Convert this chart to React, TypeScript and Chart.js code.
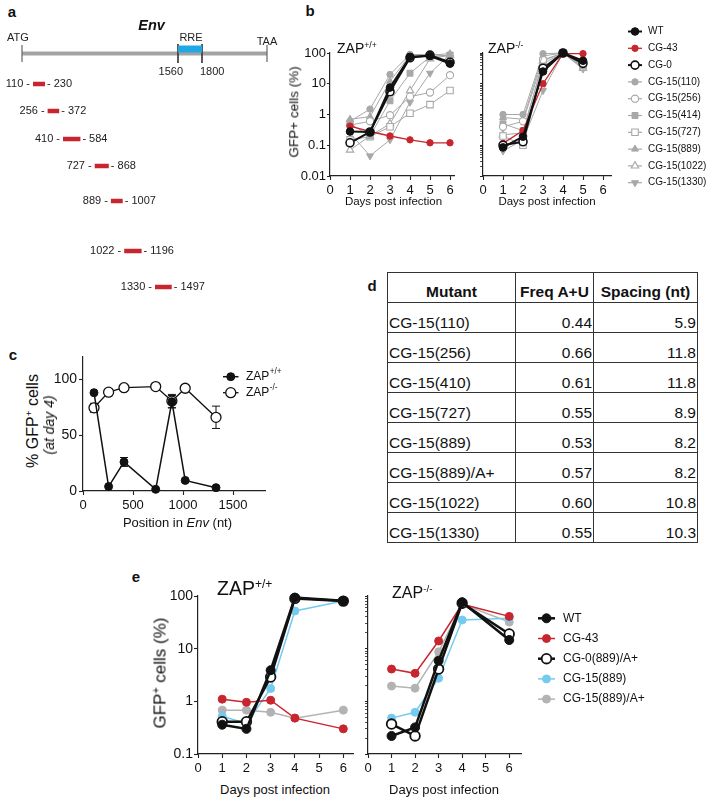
import React, { useEffect, useRef } from "react";
import { Chart, registerables } from "chart.js";
import { drawPoint } from "chart.js/helpers";

Chart.register(...registerables);

const FONT = "'Liberation Sans', Arial, Helvetica, sans-serif";
Chart.defaults.font.family = FONT;
Chart.defaults.color = "#111";

// ===================== DATA =====================
// Panel a – Env schematic (nt positions)
const ENV_START = 0;
const ENV_END = 2450;
const RRE_RANGE = [1560, 1800];
const SEGMENT_STARTS = [110, 256, 410, 727, 889, 1022, 1330];
const SEGMENT_ENDS = [230, 372, 584, 868, 1007, 1196, 1497];

// Panel b – GFP+ cells (%) by day
const B_DAYS_ZAP_POS = [1, 2, 3, 4, 5, 6];
const B_DAYS_ZAP_KO = [1, 2, 3, 4, 5];
const B_DAY_TICKS = [0, 1, 2, 3, 4, 5, 6];
const B_SERIES = ["WT", "CG-43", "CG-0", "CG-15(110)", "CG-15(256)", "CG-15(414)", "CG-15(727)", "CG-15(889)", "CG-15(1022)", "CG-15(1330)"];
// ZAP+/+
const B_POS_WT = [0.28, 0.27, 7.5, 75, 80, 45];
const B_POS_CG43 = [0.42, 0.28, 0.2, 0.15, 0.12, 0.12];
const B_POS_CG0 = [0.12, 0.27, 5.5, 70, 85, 50];
const B_POS_110 = [0.6, 1.5, 20, 90, 88, 80];
const B_POS_256 = [0.45, 0.6, 0.95, 3.8, 5.2, 19];
const B_POS_414 = [0.5, 0.2, 2.8, 22, 75, 85];
const B_POS_727 = [0.15, 0.19, 0.4, 1.1, 2.1, 6];
const B_POS_889 = [0.7, 0.85, 12, 85, 85, 95];
const B_POS_1022 = [0.07, 0.2, 0.5, 6, 65, 85];
const B_POS_1330 = [0.25, 0.045, 0.15, 2.5, 22, 90];
// ZAP-/-
const B_KO_WT = [0.085, 0.19, 25, 100, 56];
const B_KO_CG43 = [0.115, 0.3, 10, 95, 95];
const B_KO_CG0 = [0.1, 0.13, 32, 100, 46];
const B_KO_110 = [1.0, 1.0, 95, 100, 40];
const B_KO_256 = [0.4, 0.6, 60, 100, 45];
const B_KO_414 = [0.5, 0.3, 45, 100, 50];
const B_KO_727 = [0.2, 0.1, 28, 100, 40];
const B_KO_889 = [0.8, 0.7, 80, 100, 35];
const B_KO_1022 = [0.22, 0.25, 55, 100, 32];
const B_KO_1330 = [0.065, 0.15, 6, 100, 30];

// Panel c – % GFP+ at day 4 vs position
const C_POSITIONS = [110, 256, 410, 727, 889, 1022, 1330];
const C_ZAP_POS = [88, 4, 26, 1.5, 80, 9.5, 3];
const C_ZAP_POS_ERR = [0, 0, 4, 0, 5.5, 0, 0];
const C_ZAP_KO = [74.5, 88.5, 92.5, 93.5, 80.5, 92, 66];
const C_ZAP_KO_ERR = [4, 0, 0, 0, 6, 0, 10];
const C_X_TICKS = [0, 500, 1000, 1500];
const C_Y_TICKS = [0, 50, 100];

// Panel d – table
const D_MUTANTS = ["CG-15(110)", "CG-15(256)", "CG-15(410)", "CG-15(727)", "CG-15(889)", "CG-15(889)/A+", "CG-15(1022)", "CG-15(1330)"];
const D_FREQ_AU = [0.44, 0.66, 0.61, 0.55, 0.53, 0.57, 0.6, 0.55];
const D_SPACING = [5.9, 11.8, 11.8, 8.9, 8.2, 8.2, 10.8, 10.3];

// Panel e
const E_DAYS = [1, 2, 3, 4, 6];
const E_DAY_TICKS = [0, 1, 2, 3, 4, 5, 6];
const E_SERIES = ["WT", "CG-43", "CG-0(889)/A+", "CG-15(889)", "CG-15(889)/A+"];
const E_POS_WT = [0.36, 0.3, 3.9, 93, 81];
const E_POS_CG43 = [1.1, 0.96, 1.05, 0.48, 0.3];
const E_POS_CG0 = [0.41, 0.41, 2.9, 90, 80];
const E_POS_889 = [0.52, 0.38, 1.75, 52, 80];
const E_POS_889A = [0.68, 0.68, 0.62, 0.48, 0.68];
const E_KO_WT = [0.22, 0.32, 5.9, 76, 14.6];
const E_KO_CG43 = [4.1, 3.4, 14, 70, 41];
const E_KO_CG0 = [0.37, 0.22, 4.1, 73, 19];
const E_KO_889 = [0.48, 0.62, 2.75, 35, 38];
const E_KO_889A = [1.95, 1.78, 8.7, 70, 32];

// ===================== STYLE / LAYOUT =====================
const BLACK = "#111111";
const RED = "#c8262e";
const GRAY = "#a8a8a8";
const EGRAY = "#b3b3b3";
const BLUE = "#74cbef";
const RRE_BLUE = "#1fa8e4";
const BACKBONE = "#a3a3a3";
const AXIS = "#222222";

type St = { color: string; fill: string; shape: string; rot?: number; r: number; lw: number; pbw: number; order: number };

const B_STYLES: St[] = [
  { color: BLACK, fill: BLACK, shape: "circle", r: 3.8, lw: 2, pbw: 1, order: 0 },
  { color: RED, fill: RED, shape: "circle", r: 3.2, lw: 1.3, pbw: 1, order: 2 },
  { color: BLACK, fill: "#fff", shape: "circle", r: 4, lw: 2, pbw: 1.6, order: 1 },
  { color: GRAY, fill: GRAY, shape: "circle", r: 3.2, lw: 1, pbw: 1, order: 3 },
  { color: GRAY, fill: "#fff", shape: "circle", r: 3.6, lw: 1, pbw: 1.1, order: 4 },
  { color: GRAY, fill: GRAY, shape: "rect", r: 4.2, lw: 1, pbw: 1, order: 5 },
  { color: GRAY, fill: "#fff", shape: "rect", r: 4.6, lw: 1, pbw: 1.1, order: 6 },
  { color: GRAY, fill: GRAY, shape: "triangle", r: 4, lw: 1, pbw: 1, order: 7 },
  { color: GRAY, fill: "#fff", shape: "triangle", r: 4.3, lw: 1, pbw: 1.1, order: 8 },
  { color: GRAY, fill: GRAY, shape: "triangle", rot: 180, r: 4, lw: 1, pbw: 1, order: 9 },
];

const E_STYLES: St[] = [
  { color: BLACK, fill: BLACK, shape: "circle", r: 4.5, lw: 2.5, pbw: 1, order: 0 },
  { color: RED, fill: RED, shape: "circle", r: 4, lw: 1.5, pbw: 1, order: 2 },
  { color: BLACK, fill: "#fff", shape: "circle", r: 4.8, lw: 2.5, pbw: 1.8, order: 1 },
  { color: BLUE, fill: BLUE, shape: "circle", r: 4, lw: 1.5, pbw: 1, order: 3 },
  { color: EGRAY, fill: EGRAY, shape: "circle", r: 4, lw: 1.5, pbw: 1, order: 4 },
];

// Panel a row layout (vertical placement within the schematic canvas)
const A_TITLE_Y = 26;
const A_TOPLABEL_Y = 38;
const A_TAA_Y = 42;
const A_RRE_Y = 49;
const A_BACKBONE_Y = 53.5;
const A_TICK_Y = [45, 62];
const A_RRE_TICK_Y = [44, 63];
const A_NUM_Y = 72;
const A_ROW_Y = [84, 111, 139, 166, 201, 251, 287];

type Area = { l: number; t: number; r: number; b: number };
type Frame = { left: number; top: number; width: number; height: number; yw: number; xh: number; padTop: number; padRight: number };
function frame(a: Area, yw: number, xh: number, padTop: number, padRight: number): Frame {
  const left = a.l - yw;
  const top = a.t - padTop;
  return { left, top, width: a.r + padRight - left, height: a.b + xh - top, yw, xh, padTop, padRight };
}

const A_FRAME: Frame = { left: 0, top: 0, width: 290, height: 300, yw: 0, xh: 0, padTop: 0, padRight: 0 };
const B_LEFT = frame({ l: 330, t: 53, r: 454, b: 176 }, 40, 30, 10, 6);
const B_RIGHT = frame({ l: 483, t: 53, r: 611, b: 176 }, 10, 30, 30, 95);
const C_FRAME = frame({ l: 83, t: 357, r: 265, b: 491 }, 40, 28, 12, 35);
const E_LEFT = frame({ l: 198, t: 596, r: 353, b: 754 }, 45, 26, 10, 8);
const E_RIGHT = frame({ l: 368, t: 596, r: 521, b: 754 }, 10, 26, 10, 185);

// ===================== PLUGINS =====================
const sideLegend = {
  id: "sideLegend",
  afterDraw(chart: any, _args: any, opts: any) {
    if (!opts || !opts.items) return;
    const ctx = chart.ctx as CanvasRenderingContext2D;
    opts.items.forEach((it: any, i: number) => {
      const y = opts.y0 + i * opts.dy;
      const st: St = it.style;
      ctx.save();
      ctx.strokeStyle = st.color;
      ctx.lineWidth = Math.max(st.lw, 1.2);
      ctx.beginPath();
      ctx.moveTo(opts.x0, y);
      ctx.lineTo(opts.x1, y);
      ctx.stroke();
      ctx.fillStyle = st.fill;
      ctx.strokeStyle = st.color;
      ctx.lineWidth = st.pbw;
      drawPoint(ctx, { pointStyle: st.shape as any, rotation: st.rot || 0, radius: st.r, borderWidth: st.pbw }, (opts.x0 + opts.x1) / 2, y);
      ctx.fillStyle = "#111";
      ctx.font = `${opts.size}px ${FONT}`;
      ctx.textBaseline = "middle";
      ctx.textAlign = "left";
      ctx.fillText(it.label, opts.tx, y);
      if (it.sup) {
        const w = ctx.measureText(it.label).width;
        ctx.font = `${opts.size * 0.68}px ${FONT}`;
        ctx.fillText(it.sup, opts.tx + w + 0.5, y - opts.size * 0.38);
      }
      ctx.restore();
    });
  },
};

const errorBars = {
  id: "errorBars",
  beforeDatasetsDraw(chart: any, _args: any, opts: any) {
    const ctx = chart.ctx as CanvasRenderingContext2D;
    const ys = chart.scales.y;
    chart.data.datasets.forEach((ds: any, di: number) => {
      if (!ds.errors) return;
      const meta = chart.getDatasetMeta(di);
      meta.data.forEach((pt: any, i: number) => {
        const e = ds.errors[i];
        if (!e) return;
        const v = ds.data[i].y;
        const y1 = ys.getPixelForValue(v + e);
        const y2 = ys.getPixelForValue(v - e);
        const cap = (opts && opts.cap) || 8;
        ctx.save();
        ctx.strokeStyle = ds.borderColor;
        ctx.lineWidth = 1;
        ctx.beginPath();
        ctx.moveTo(pt.x, y1);
        ctx.lineTo(pt.x, y2);
        ctx.moveTo(pt.x - cap / 2, y1);
        ctx.lineTo(pt.x + cap / 2, y1);
        ctx.moveTo(pt.x - cap / 2, y2);
        ctx.lineTo(pt.x + cap / 2, y2);
        ctx.stroke();
        ctx.restore();
      });
    });
  },
};

const schematicLabels = {
  id: "schematicLabels",
  afterDatasetsDraw(chart: any, _args: any, opts: any) {
    if (!opts || !opts.labels) return;
    const ctx = chart.ctx as CanvasRenderingContext2D;
    const xs = chart.scales.x;
    const ys = chart.scales.y;
    opts.labels.forEach((lb: any) => {
      ctx.save();
      ctx.font = lb.font;
      ctx.fillStyle = lb.color || "#222";
      ctx.textAlign = lb.align || "center";
      ctx.textBaseline = "middle";
      ctx.fillText(lb.text, xs.getPixelForValue(lb.x) + (lb.dx || 0), ys.getPixelForValue(lb.y) + (lb.dy || 0));
      ctx.restore();
    });
  },
};

// ===================== AXES =====================
function linX(f: Frame, min: number, max: number, ticks: number[], size: number) {
  return {
    type: "linear",
    position: "bottom",
    min,
    max,
    afterBuildTicks: (s: any) => {
      s.ticks = ticks.map((v) => ({ value: v }));
    },
    afterFit: (s: any) => {
      s.height = f.xh;
    },
    grid: { display: true, drawOnChartArea: false, drawTicks: true, tickLength: 4, tickColor: AXIS, tickWidth: 1.1 },
    border: { display: true, color: AXIS, width: 1.2 },
    ticks: { autoSkip: false, maxRotation: 0, minRotation: 0, padding: 3, color: "#111", font: { size }, callback: (v: any) => String(v) },
  };
}

function linY(f: Frame, min: number, max: number, ticks: number[], size: number) {
  return {
    type: "linear",
    position: "left",
    min,
    max,
    afterBuildTicks: (s: any) => {
      s.ticks = ticks.map((v) => ({ value: v }));
    },
    afterFit: (s: any) => {
      s.width = f.yw;
    },
    grid: { display: true, drawOnChartArea: false, drawTicks: true, tickLength: 4, tickColor: AXIS, tickWidth: 1.1 },
    border: { display: true, color: AXIS, width: 1.2 },
    ticks: { autoSkip: false, padding: 2, color: "#111", font: { size }, callback: (v: any) => String(v) },
  };
}

function logTickList(minExp: number, maxExp: number, minor: boolean) {
  const out: { value: number; major: boolean }[] = [];
  for (let e = minExp; e <= maxExp; e++) {
    const base = Number(Math.pow(10, e).toPrecision(1));
    out.push({ value: base, major: true });
    if (minor && e < maxExp) {
      for (let m = 2; m <= 9; m++) out.push({ value: Number((m * base).toPrecision(2)), major: false });
    }
  }
  return out.sort((a, b) => a.value - b.value);
}

function logY(f: Frame, minExp: number, maxExp: number, minor: boolean, labels: boolean, size: number, tickLen: number) {
  const list = logTickList(minExp, maxExp, minor);
  return {
    type: "logarithmic",
    position: "left",
    min: Number(Math.pow(10, minExp).toPrecision(1)),
    max: Number(Math.pow(10, maxExp).toPrecision(1)),
    afterBuildTicks: (s: any) => {
      s.ticks = list.map((t) => ({ ...t }));
    },
    afterFit: (s: any) => {
      s.width = f.yw;
    },
    grid: {
      display: true,
      drawOnChartArea: false,
      drawTicks: true,
      tickLength: tickLen,
      tickColor: AXIS,
      tickWidth: (c: any) => (c.tick && c.tick.major ? 1.1 : 0.8),
    },
    border: { display: true, color: AXIS, width: 1.2 },
    ticks: {
      autoSkip: false,
      padding: 1,
      color: "#111",
      font: { size },
      callback: (v: any, i: number, ts: any[]) => (labels && ts[i] && ts[i].major ? String(v) : ""),
    },
  };
}

function lineDataset(label: string, xs: number[], ys: number[], st: St) {
  return {
    label,
    data: xs.map((x, i) => ({ x, y: ys[i] })),
    showLine: true,
    borderColor: st.color,
    backgroundColor: st.fill,
    borderWidth: st.lw,
    pointStyle: st.shape,
    pointRotation: st.rot || 0,
    pointRadius: st.r,
    pointHoverRadius: st.r,
    pointBorderColor: st.color,
    pointBackgroundColor: st.fill,
    pointBorderWidth: st.pbw,
    tension: 0,
    clip: false,
    order: st.order,
  };
}

function baseOptions(f: Frame) {
  return {
    responsive: false,
    maintainAspectRatio: false,
    animation: false,
    events: [],
    layout: { padding: { top: f.padTop, right: f.padRight, left: 0, bottom: 0 } },
  };
}

// ===================== CHART BUILDERS =====================
function buildA(f: Frame) {
  const seg = (x0: number, x1: number, y0: number, y1: number, color: string, w: number) => ({
    data: [
      { x: x0, y: y0 },
      { x: x1, y: y1 },
    ],
    showLine: true,
    borderColor: color,
    borderWidth: w,
    pointRadius: 0,
    borderCapStyle: "butt",
    clip: false,
  });
  const datasets = [
    ...SEGMENT_STARTS.map((s, i) => seg(s, SEGMENT_ENDS[i], A_ROW_Y[i], A_ROW_Y[i], RED, 4.5)),
    seg(RRE_RANGE[0], RRE_RANGE[1], A_RRE_Y, A_RRE_Y, RRE_BLUE, 7),
    seg(ENV_START, ENV_START, A_TICK_Y[0], A_TICK_Y[1], "#666", 1.2),
    seg(ENV_END, ENV_END, A_TICK_Y[0], A_TICK_Y[1], "#666", 1.2),
    seg(RRE_RANGE[0], RRE_RANGE[0], A_RRE_TICK_Y[0], A_RRE_TICK_Y[1], "#444", 1),
    seg(RRE_RANGE[1], RRE_RANGE[1], A_RRE_TICK_Y[0], A_RRE_TICK_Y[1], "#444", 1),
    seg(ENV_START, ENV_END, A_BACKBONE_Y, A_BACKBONE_Y, BACKBONE, 4),
  ];
  const small = `11px ${FONT}`;
  const labels: any[] = [
    { x: (ENV_START + ENV_END) / 2, y: A_TITLE_Y, text: "Env", font: `italic bold 14.5px ${FONT}`, dx: 7, color: "#111" },
    { x: ENV_START, y: A_TOPLABEL_Y, text: "ATG", font: small, dx: -4 },
    { x: ENV_END, y: A_TAA_Y, text: "TAA", font: small, dx: 0 },
    { x: (RRE_RANGE[0] + RRE_RANGE[1]) / 2, y: A_TOPLABEL_Y, text: "RRE", font: small, dx: 1 },
    { x: RRE_RANGE[0], y: A_NUM_Y, text: String(RRE_RANGE[0]), font: small, align: "right", dx: 5 },
    { x: RRE_RANGE[1], y: A_NUM_Y, text: String(RRE_RANGE[1]), font: small, align: "left", dx: -2 },
  ];
  SEGMENT_STARTS.forEach((s, i) => {
    labels.push({ x: s, y: A_ROW_Y[i], text: `${s} -`, font: small, align: "right", dx: -3 });
    labels.push({ x: SEGMENT_ENDS[i], y: A_ROW_Y[i], text: `- ${SEGMENT_ENDS[i]}`, font: small, align: "left", dx: 2 });
  });
  return {
    type: "scatter",
    data: { datasets },
    options: {
      ...baseOptions(f),
      plugins: { legend: { display: false }, tooltip: { enabled: false }, schematicLabels: { labels } },
      scales: {
        x: { type: "linear", display: false, min: -220, max: 2680 },
        y: { type: "linear", display: false, min: 0, max: 300, reverse: true },
      },
    },
    plugins: [schematicLabels],
  };
}

const B_POS_VALUES = [B_POS_WT, B_POS_CG43, B_POS_CG0, B_POS_110, B_POS_256, B_POS_414, B_POS_727, B_POS_889, B_POS_1022, B_POS_1330];
const B_KO_VALUES = [B_KO_WT, B_KO_CG43, B_KO_CG0, B_KO_110, B_KO_256, B_KO_414, B_KO_727, B_KO_889, B_KO_1022, B_KO_1330];

function buildBLeft(f: Frame) {
  return {
    type: "scatter",
    data: { datasets: B_SERIES.map((s, i) => lineDataset(s, B_DAYS_ZAP_POS, B_POS_VALUES[i], B_STYLES[i])) },
    options: {
      ...baseOptions(f),
      plugins: { legend: { display: false }, tooltip: { enabled: false } },
      scales: { x: linX(f, 0, 6.2, B_DAY_TICKS, 13), y: logY(f, -2, 2, false, true, 13, 3) },
    },
  };
}

function buildBRight(f: Frame) {
  return {
    type: "scatter",
    data: { datasets: B_SERIES.map((s, i) => lineDataset(s, B_DAYS_ZAP_KO, B_KO_VALUES[i], B_STYLES[i])) },
    options: {
      ...baseOptions(f),
      plugins: {
        legend: { display: false },
        tooltip: { enabled: false },
        sideLegend: {
          x0: 628 - f.left,
          x1: 642 - f.left,
          tx: 648 - f.left,
          y0: 31.5 - f.top,
          dy: 16.8,
          size: 10,
          items: B_SERIES.map((s, i) => ({ label: s, style: B_STYLES[i] })),
        },
      },
      scales: { x: linX(f, 0, 6.4, B_DAY_TICKS, 13), y: logY(f, -2, 2, true, false, 13, 3) },
    },
    plugins: [sideLegend],
  };
}

function buildC(f: Frame) {
  const posStyle: St = { color: BLACK, fill: BLACK, shape: "circle", r: 4, lw: 1.5, pbw: 1, order: 0 };
  const koStyle: St = { color: BLACK, fill: "#fff", shape: "circle", r: 5, lw: 1.3, pbw: 1.3, order: 1 };
  const dPos: any = lineDataset("ZAP+/+", C_POSITIONS, C_ZAP_POS, posStyle);
  dPos.errors = C_ZAP_POS_ERR;
  const dKo: any = lineDataset("ZAP-/-", C_POSITIONS, C_ZAP_KO, koStyle);
  dKo.errors = C_ZAP_KO_ERR;
  return {
    type: "scatter",
    data: { datasets: [dPos, dKo] },
    options: {
      ...baseOptions(f),
      plugins: {
        legend: { display: false },
        tooltip: { enabled: false },
        errorBars: { cap: 8 },
        sideLegend: {
          x0: 223 - f.left,
          x1: 238.5 - f.left,
          tx: 246 - f.left,
          y0: 376.7 - f.top,
          dy: 16,
          size: 12,
          items: [
            { label: "ZAP", sup: "+/+", style: posStyle },
            { label: "ZAP", sup: "-/-", style: koStyle },
          ],
        },
      },
      scales: { x: linX(f, 0, 1820, C_X_TICKS, 13), y: linY(f, 0, 120, C_Y_TICKS, 14) },
    },
    plugins: [errorBars, sideLegend],
  };
}

const E_POS_VALUES = [E_POS_WT, E_POS_CG43, E_POS_CG0, E_POS_889, E_POS_889A];
const E_KO_VALUES = [E_KO_WT, E_KO_CG43, E_KO_CG0, E_KO_889, E_KO_889A];

function buildELeft(f: Frame) {
  return {
    type: "scatter",
    data: { datasets: E_SERIES.map((s, i) => lineDataset(s, E_DAYS, E_POS_VALUES[i], E_STYLES[i])) },
    options: {
      ...baseOptions(f),
      plugins: { legend: { display: false }, tooltip: { enabled: false } },
      scales: { x: linX(f, 0, 6.4, E_DAY_TICKS, 13), y: logY(f, -1, 2, false, true, 14, 4) },
    },
  };
}

function buildERight(f: Frame) {
  return {
    type: "scatter",
    data: { datasets: E_SERIES.map((s, i) => lineDataset(s, E_DAYS, E_KO_VALUES[i], E_STYLES[i])) },
    options: {
      ...baseOptions(f),
      plugins: {
        legend: { display: false },
        tooltip: { enabled: false },
        sideLegend: {
          x0: 538 - f.left,
          x1: 555 - f.left,
          tx: 563 - f.left,
          y0: 618.3 - f.top,
          dy: 20.2,
          size: 12,
          items: E_SERIES.map((s, i) => ({ label: s, style: E_STYLES[i] })),
        },
      },
      scales: { x: linX(f, 0, 6.5, E_DAY_TICKS, 13), y: logY(f, -1, 2, true, false, 14, 3) },
    },
    plugins: [sideLegend],
  };
}

// ===================== COMPONENTS =====================
function ChartCanvas({ f, build }: { f: Frame; build: (f: Frame) => any }) {
  const ref = useRef<HTMLCanvasElement | null>(null);
  useEffect(() => {
    if (!ref.current) return;
    const chart = new Chart(ref.current, build(f));
    return () => chart.destroy();
  }, []);
  return (
    <canvas
      ref={ref}
      width={f.width}
      height={f.height}
      style={{ position: "absolute", left: f.left, top: f.top, width: f.width, height: f.height }}
    />
  );
}

function T(props: { x: number; y: number; size: number; bold?: boolean; italic?: boolean; rotate?: boolean; left?: boolean; children: any }) {
  const tx = props.left ? "0" : "-50%";
  return (
    <div
      style={{
        position: "absolute",
        left: props.x,
        top: props.y,
        transform: `translate(${tx},-50%)${props.rotate ? " rotate(-90deg)" : ""}`,
        fontSize: props.size,
        fontWeight: props.bold ? "bold" : "normal",
        fontStyle: props.italic ? "italic" : "normal",
        whiteSpace: "nowrap",
        lineHeight: 1,
        color: "#111",
        fontFamily: FONT,
      }}
    >
      {props.children}
    </div>
  );
}

function Sup({ children }: { children: any }) {
  return <span style={{ fontSize: "0.62em", verticalAlign: "0.6em", lineHeight: 0 }}>{children}</span>;
}

function Table() {
  const border = "1.5px solid #333";
  const cell: React.CSSProperties = { border, height: 30, padding: "0 1px 2px 1px", verticalAlign: "bottom", fontSize: 15.5, lineHeight: 1, boxSizing: "border-box" };
  return (
    <table
      style={{
        position: "absolute",
        left: 387,
        top: 272,
        borderCollapse: "collapse",
        tableLayout: "fixed",
        width: 310,
        fontFamily: FONT,
        color: "#111",
      }}
    >
      <colgroup>
        <col style={{ width: 128 }} />
        <col style={{ width: 78 }} />
        <col style={{ width: 104 }} />
      </colgroup>
      <thead>
        <tr>
          <th style={{ ...cell, fontWeight: "bold", textAlign: "center", paddingBottom: 3 }}>Mutant</th>
          <th style={{ ...cell, fontWeight: "bold", textAlign: "center", paddingBottom: 3 }}>Freq A+U</th>
          <th style={{ ...cell, fontWeight: "bold", textAlign: "center", paddingBottom: 3 }}>Spacing (nt)</th>
        </tr>
      </thead>
      <tbody>
        {D_MUTANTS.map((m, i) => (
          <tr key={m}>
            <td style={{ ...cell, textAlign: "left" }}>{m}</td>
            <td style={{ ...cell, textAlign: "right" }}>{D_FREQ_AU[i].toFixed(2)}</td>
            <td style={{ ...cell, textAlign: "right" }}>{D_SPACING[i].toFixed(1)}</td>
          </tr>
        ))}
      </tbody>
    </table>
  );
}

export default function App() {
  return (
    <div style={{ position: "absolute", left: 0, top: 0, width: 706, height: 798, background: "#fff", overflow: "hidden", fontFamily: FONT }}>
      {/* panel letters */}
      <T x={12} y={11} size={15} bold>a</T>
      <T x={310} y={10} size={15} bold>b</T>
      <T x={13} y={354} size={15} bold>c</T>
      <T x={372} y={285} size={15} bold>d</T>
      <T x={136} y={576} size={15} bold>e</T>

      {/* panel a */}
      <ChartCanvas f={A_FRAME} build={buildA} />

      {/* panel b */}
      <ChartCanvas f={B_LEFT} build={buildBLeft} />
      <ChartCanvas f={B_RIGHT} build={buildBRight} />
      <T x={337} y={48} size={14} left>
        ZAP<Sup>+/+</Sup>
      </T>
      <T x={488} y={48} size={14} left>
        ZAP<Sup>-/-</Sup>
      </T>
      <T x={294} y={112} size={13.5} rotate>GFP+ cells (%)</T>
      <T x={393.5} y={202} size={11.5}>Days post infection</T>
      <T x={547} y={202} size={11.5}>Days post infection</T>

      {/* panel c */}
      <ChartCanvas f={C_FRAME} build={buildC} />
      <T x={33} y={421} size={16} rotate>
        % GFP<Sup>+</Sup> cells
      </T>
      <T x={49} y={425} size={14} rotate italic>(at day 4)</T>
      <T x={177.5} y={522} size={13}>
        Position in <i>Env</i> (nt)
      </T>

      {/* panel d */}
      <Table />

      {/* panel e */}
      <ChartCanvas f={E_LEFT} build={buildELeft} />
      <ChartCanvas f={E_RIGHT} build={buildERight} />
      <T x={217} y={589} size={19.5} left>
        ZAP<Sup>+/+</Sup>
      </T>
      <T x={392} y={593} size={16} left>
        ZAP<Sup>-/-</Sup>
      </T>
      <T x={160} y={673} size={17} rotate>
        GFP<Sup>+</Sup> cells (%)
      </T>
      <T x={275} y={789} size={13}>Days post infection</T>
      <T x={444} y={789} size={13}>Days post infection</T>
    </div>
  );
}
